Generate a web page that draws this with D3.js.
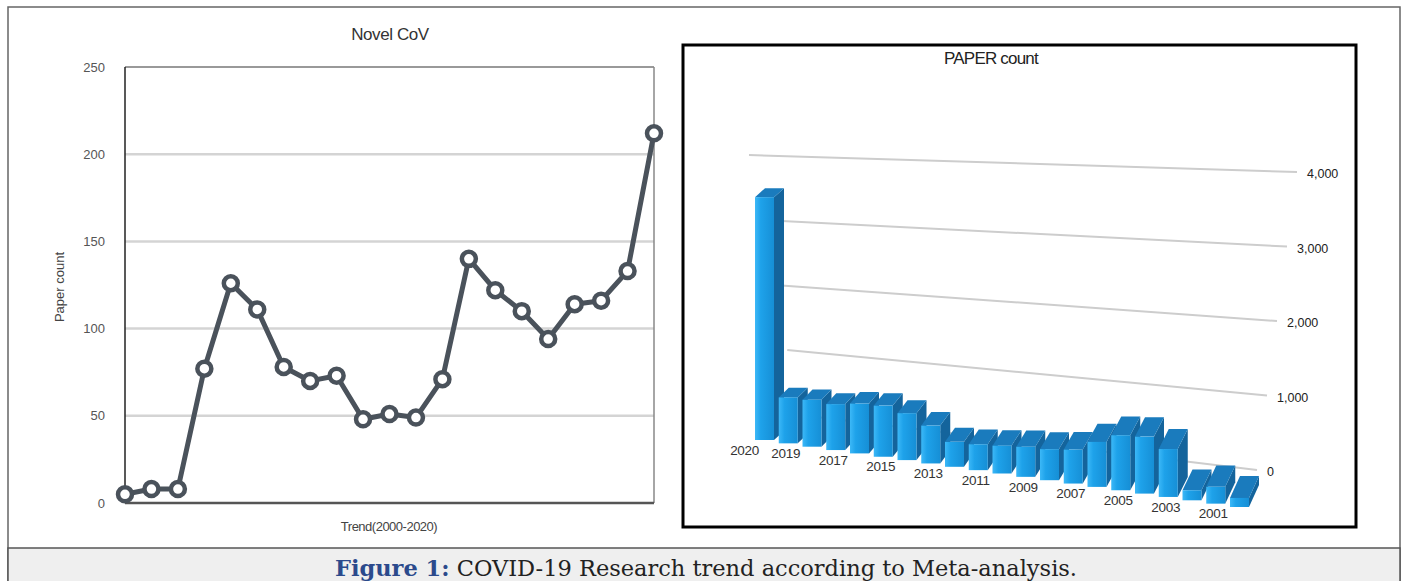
<!DOCTYPE html>
<html>
<head>
<meta charset="utf-8">
<script src="https://cdn.jsdelivr.net/npm/d3@7"></script>
<style>
body{margin:0;background:#fff}
svg{display:block}
</style>
</head>
<body>
<svg id="fig"></svg>
<script>
// left chart: Novel CoV paper count per year
const novelYears = [2000,2001,2002,2003,2004,2005,2006,2007,2008,2009,2010,2011,2012,2013,2014,2015,2016,2017,2018,2019,2020]
const novelCounts = [5,8,8,77,126,111,78,70,73,48,51,49,71,140,122,110,94,114,116,133,212]
const novelTicks = [0,50,100,150,200,250]

// right chart: PAPER count (3d bars, newest first)
const paperYears = [2020,2019,2018,2017,2016,2015,2014,2013,2012,2011,2010,2009,2008,2007,2006,2005,2004,2003,2002,2001,2000]
const paperCounts = [3750,710,725,710,770,790,725,585,385,400,430,465,480,525,695,850,880,740,155,260,140]
const paperLabelYears = [2020,2019,2017,2015,2013,2011,2009,2007,2005,2003,2001]
const paperTicks = [0,1000,2000,3000,4000]

const W = 1405, H = 581
const svg = d3.select("#fig").attr("width",W).attr("height",H)

// ---- frame + caption
svg.append("rect").attr("x",8).attr("y",7).attr("width",1392).attr("height",H)
    .attr("fill","#fff").attr("stroke","#666").attr("stroke-width",1.5)
svg.append("rect").attr("x",8).attr("y",548).attr("width",1392).attr("height",40)
    .attr("fill","#efefef").attr("stroke","#555").attr("stroke-width",1.5)
const cap = svg.append("text")
    .attr("x",706).attr("y",576)
    .attr("text-anchor","middle")
    .attr("font-family","'DejaVu Serif', serif")
    .attr("font-size",22.5)
    .attr("fill","#222")
cap.append("tspan").attr("font-weight","bold").attr("fill","#2b4a8c").text("Figure 1:")
cap.append("tspan").text(" COVID-19 Research trend according to Meta-analysis.")

// ---- left chart
const L = {left:125,right:654,top:67,bottom:503}
const x = d3.scaleLinear().domain(d3.extent(novelYears)).range([L.left,L.right])
const y = d3.scaleLinear().domain([0,250]).range([L.bottom,L.top])
const left = svg.append("g").attr("font-family","'Liberation Sans', Arial, sans-serif")

left.selectAll("line.grid")
    .data(novelTicks.filter(d=>d>0 && d<250))
    .enter().append("line")
    .attr("class","grid")
    .attr("x1",L.left).attr("x2",L.right)
    .attr("y1",d=>y(d)).attr("y2",d=>y(d))
    .attr("stroke","#d4d4d4").attr("stroke-width",2.5)
left.append("line").attr("x1",L.left).attr("x2",L.right).attr("y1",y(250)).attr("y2",y(250))
    .attr("stroke","#999").attr("stroke-width",2)
left.append("line").attr("x1",L.right).attr("x2",L.right).attr("y1",y(250)).attr("y2",y(0))
    .attr("stroke","#888").attr("stroke-width",1.5)
left.append("line").attr("x1",L.left).attr("x2",L.left).attr("y1",y(250)).attr("y2",y(0))
    .attr("stroke","#222").attr("stroke-width",1.5)
left.append("line").attr("x1",L.left).attr("x2",L.right).attr("y1",y(0)).attr("y2",y(0))
    .attr("stroke","#555").attr("stroke-width",2.5)

left.selectAll("text.tick")
    .data(novelTicks)
    .enter().append("text")
    .attr("class","tick")
    .attr("x",L.left-20).attr("y",d=>y(d))
    .attr("dy","0.35em")
    .attr("text-anchor","end")
    .attr("font-size",13)
    .attr("fill","#555")
    .text(d=>d)

left.append("text").attr("x",390).attr("y",40).attr("text-anchor","middle")
    .attr("font-size",17).attr("fill","#333").attr("letter-spacing",-0.4).text("Novel CoV")
left.append("text").attr("transform","translate(64,287) rotate(-90)").attr("text-anchor","middle")
    .attr("font-size",13).attr("fill","#444").text("Paper count")
left.append("text").attr("x",389).attr("y",531).attr("text-anchor","middle")
    .attr("font-size",13).attr("fill","#444").attr("letter-spacing",-0.5).text("Trend(2000-2020)")

const line = d3.line().x((d,i)=>x(novelYears[i])).y(d=>y(d))
left.append("path").datum(novelCounts)
    .attr("d",line).attr("fill","none")
    .attr("stroke","#4a525b").attr("stroke-width",5).attr("stroke-linejoin","round")
left.selectAll("circle")
    .data(novelCounts)
    .enter().append("circle")
    .attr("cx",(d,i)=>x(novelYears[i])).attr("cy",d=>y(d))
    .attr("r",7).attr("fill","#fff")
    .attr("stroke","#4a525b").attr("stroke-width",4.5)

// ---- right chart
svg.append("rect").attr("x",683).attr("y",45).attr("width",673).attr("height",482)
    .attr("fill","#fff").attr("stroke","#000").attr("stroke-width",3)
const right = svg.append("g").attr("font-family","'Liberation Sans', Arial, sans-serif")
right.append("text").attr("x",991).attr("y",64).attr("text-anchor","middle")
    .attr("font-size",17).attr("fill","#222").attr("letter-spacing",-0.8).text("PAPER count")

// slanted gridlines (back wall)
const gLeftX = d3.scaleLinear().domain([0,4000]).range([800,749])
const gLeftY = d3.scaleLinear().domain([0,4000]).range([415,155])
const gRightX = d3.scaleLinear().domain([0,4000]).range([1257,1297])
const gRightY = d3.scaleLinear().domain([0,4000]).range([470,172])
right.selectAll("line.pgrid")
    .data(paperTicks)
    .enter().append("line")
    .attr("class","pgrid")
    .attr("x1",d=>gLeftX(d)).attr("y1",d=>gLeftY(d))
    .attr("x2",d=>gRightX(d)).attr("y2",d=>gRightY(d))
    .attr("stroke","#cdcdcd").attr("stroke-width",2)
right.selectAll("text.ptick")
    .data(paperTicks)
    .enter().append("text")
    .attr("class","ptick")
    .attr("x",d=>gRightX(d)+10).attr("y",d=>gRightY(d)+2)
    .attr("dy","0.35em")
    .attr("font-size",12.5).attr("fill","#222")
    .text(d=>d3.format(",")(d))

// bars
const defs = svg.append("defs")
const grad = defs.append("linearGradient").attr("id","front")
grad.append("stop").attr("offset","0%").attr("stop-color","#3cb8f7")
grad.append("stop").attr("offset","30%").attr("stop-color","#1ea2ea")
grad.append("stop").attr("offset","100%").attr("stop-color","#168fd6")

const bx = d3.scaleLinear().domain([2020,2000]).range([755,1230])
const by = d3.scaleLinear().domain([2020,2000]).range([440,507])
const depth = d3.scaleLinear().domain([2020,2000]).range([9,22])
const h = d3.scaleLinear().domain([0,4000]).range([0,259])
const bw = 19, dx = 10

const bars = right.selectAll("g.bar")
    .data(paperYears.map((yr,i)=>({year:yr,value:paperCounts[i]})))
    .enter().append("g").attr("class","bar")
bars.append("polygon")
    .attr("points",d=>{
        const x0=bx(d.year), y0=by(d.year), t=y0-h(d.value), dy=depth(d.year)
        return [[x0+bw,y0],[x0+bw+dx,y0-dy],[x0+bw+dx,t-dy],[x0+bw,t]].join(" ")
    })
    .attr("fill","#14649c")
bars.append("polygon")
    .attr("points",d=>{
        const x0=bx(d.year), y0=by(d.year), t=y0-h(d.value), dy=depth(d.year)
        return [[x0,t],[x0+dx,t-dy],[x0+bw+dx,t-dy],[x0+bw,t]].join(" ")
    })
    .attr("fill","#1a7bbd")
bars.append("rect")
    .attr("x",d=>bx(d.year)).attr("y",d=>by(d.year)-h(d.value))
    .attr("width",bw).attr("height",d=>h(d.value))
    .attr("fill","url(#front)")

// first label sits left of its bar, the rest are centred under them
right.selectAll("text.year")
    .data(paperLabelYears)
    .enter().append("text")
    .attr("class","year")
    .attr("x",(d,i)=>i==0 ? bx(d)+4 : bx(d)+7)
    .attr("y",d=>by(d)+10)
    .attr("dy","0.35em")
    .attr("text-anchor",(d,i)=>i==0 ? "end" : "middle")
    .attr("font-size",13.5).attr("fill","#333").attr("letter-spacing",-0.3)
    .text(d=>d)
</script>
</body>
</html>
